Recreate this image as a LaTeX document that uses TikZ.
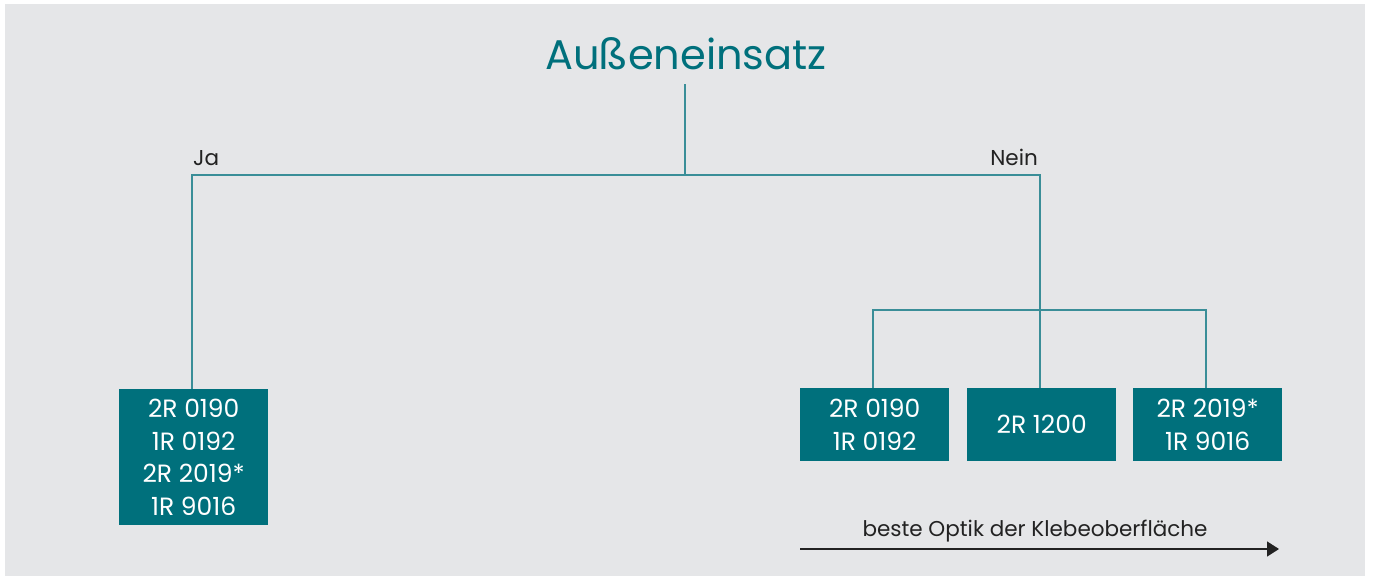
\documentclass[tikz,border=0pt]{standalone}
\usepackage{fontspec}
\setmainfont{Poppins}
\usetikzlibrary{arrows.meta}
\definecolor{bg}{HTML}{E5E6E8}
\definecolor{teal}{HTML}{00707C}
\definecolor{tline}{HTML}{3A8E98}
\definecolor{ink}{HTML}{222222}
\tikzset{
  box/.style={fill=teal, text=white, inner sep=0pt, anchor=north west, align=center, font=\fontsize{25}{32.5}\selectfont},
  conn/.style={draw=tline, line width=1.5pt},
  lbl/.style={text=ink, font=\fontsize{21.5}{24}\selectfont, inner sep=0pt}
}
\begin{document}
\begin{tikzpicture}[x=1pt,y=-1pt]
\useasboundingbox (0,0) rectangle (1373,576);
\fill[bg] (5,4) rectangle (1365,576);
\node[text=teal, font=\fontsize{41.5}{44}\selectfont, inner sep=0pt] (title) at (686,54) {Außeneinsatz};
\coordinate (top) at (685,84);
\coordinate (hub) at (685,175);
\coordinate (jl) at (192,175);
\coordinate (nr) at (1040,175);
\coordinate (sub) at (1040,310);
\coordinate (sl) at (873,310);
\coordinate (sr) at (1206,310);
\node[box, minimum width=149pt, minimum height=136pt] (bl) at (119,389) {2R 0190\\1R 0192\\2R 2019*\\1R 9016};
\node[box, minimum width=149pt, minimum height=73pt] (b1) at (800,388) {2R 0190\\1R 0192};
\node[box, minimum width=149pt, minimum height=73pt] (b2) at (967,388) {2R 1200};
\node[box, minimum width=149pt, minimum height=73pt] (b3) at (1133,388) {2R 2019*\\1R 9016};
\draw[conn] (top) -- (hub);
\draw[conn] (bl.north -| jl) -- (jl) -- (nr) -- (b2.north -| nr);
\draw[conn] (b1.north -| sl) -- (sl) -- (sr) -- (b3.north -| sr);
\node[lbl, anchor=base west] (ja) at (193,165) {Ja};
\node[lbl, anchor=base east] (nein) at (1038,165) {Nein};
\coordinate (a0) at (800,549);
\coordinate (a1) at (1279,549);
\draw[ink, line width=1.5pt, -{Triangle[length=12pt,width=15pt]}] (a0) -- (a1);
\node[lbl, anchor=base] (opt) at (1035,536) {beste Optik der Klebeoberfläche};
\end{tikzpicture}
\end{document}
